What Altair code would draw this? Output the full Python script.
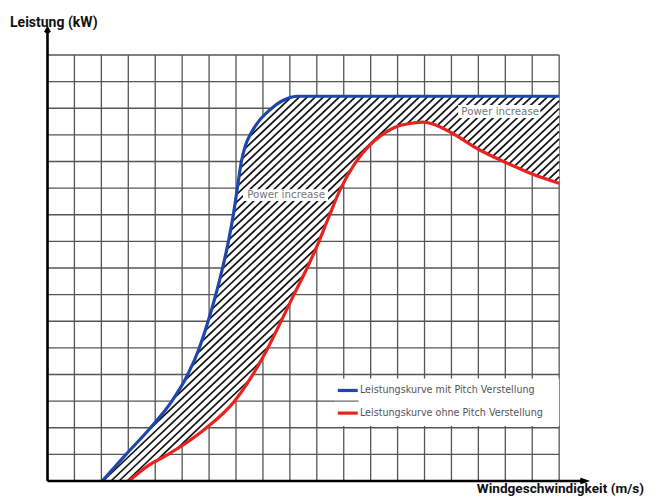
import altair as alt
import pandas as pd
import numpy as np

# ---------------- data (grid units: x = wind-speed cells, y = power cells) -------------
blue_u = [2.03, 2.9, 3.8, 4.6, 5.19, 5.62, 5.95, 6.25, 6.5, 6.72, 6.9, 7.05, 7.2, 7.35, 7.55, 7.8, 8.26, 8.76, 9.3, 19.0]
blue_v = [0.0, 0.98, 1.97, 2.97, 3.96, 4.95, 5.95, 7.0, 8.0, 9.0, 10.0, 11.0, 12.0, 12.6, 13.05, 13.45, 13.94, 14.3, 14.45, 14.45]

red_u = [3.02, 3.7, 4.44, 5.12, 5.87, 6.92, 7.6, 8.16, 8.65, 9.15, 9.64, 10.02, 10.42, 10.88, 11.44,
         11.93, 12.36, 12.86, 13.6, 13.95, 14.33, 15.0, 16.0, 17.0, 18.0, 19.0]
red_v = [0.0, 0.55, 0.98, 1.41, 1.97, 2.97, 3.96, 4.95, 5.95, 7.0, 8.0, 8.85, 9.85, 10.97, 11.97,
         12.58, 12.96, 13.27, 13.45, 13.48, 13.4, 13.08, 12.46, 11.97, 11.53, 11.18]

series_names = ["Leistungskurve mit Pitch Verstellung", "Leistungskurve ohne Pitch Verstellung"]
series_colors = ["#1f47ab", "#e8231f"]

grid_cols = list(range(0, 20))   # vertical grid lines
grid_rows = list(range(0, 17))   # horizontal grid lines
axis_x_end = 20
axis_y_end = 17

label_text = "Power increase"
label_pos_u = [8.86, 16.81]
label_pos_v = [10.74, 13.86]
label_box_u = [(7.26, 10.42), (15.25, 18.3)]
label_box_v = [(10.52, 10.96), (13.63, 14.12)]

x_title = "Windgeschwindigkeit (m/s)"
y_title = "Leistung (kW)"

# ---------------- layout ----------------
W, H = 636, 488
X0, Y0 = 39.5, 473.0          # pixel of grid origin inside the chart
CX, CY = 26.93, 26.625         # pixels per grid cell
xs = alt.Scale(domain=[-X0 / CX, (W - X0) / CX], nice=False, zero=False)
ys = alt.Scale(domain=[-(H - Y0) / CY, Y0 / CY], nice=False, zero=False)


def X(f="u"):
    return alt.X(f"{f}:Q", scale=xs, axis=None)


def Y(f="v"):
    return alt.Y(f"{f}:Q", scale=ys, axis=None)


# monotone-x cubic (same as d3 curveMonotoneX) used for fill and hatch
def monotone(xp, yp, xq):
    xp = np.asarray(xp, float); yp = np.asarray(yp, float)
    h = np.diff(xp); s = np.diff(yp) / h
    n = len(xp)
    t = np.zeros(n)
    for i in range(1, n - 1):
        h0, h1, s0, s1 = h[i - 1], h[i], s[i - 1], s[i]
        p = (s0 * h1 + s1 * h0) / (h0 + h1)
        t[i] = (np.sign(s0) + np.sign(s1)) * min(abs(s0), abs(s1), 0.5 * abs(p))
    t[0] = (3 * s[0] - t[1]) / 2
    t[-1] = (3 * s[-1] - t[-2]) / 2
    xq = np.asarray(xq, float)
    idx = np.clip(np.searchsorted(xp, xq) - 1, 0, n - 2)
    hh = h[idx]
    tau = (xq - xp[idx]) / hh
    h00 = 2 * tau**3 - 3 * tau**2 + 1
    h10 = tau**3 - 2 * tau**2 + tau
    h01 = -2 * tau**3 + 3 * tau**2
    h11 = tau**3 - tau**2
    return h00 * yp[idx] + h10 * hh * t[idx] + h01 * yp[idx + 1] + h11 * hh * t[idx + 1]


def upper(u):
    return np.where(u >= blue_u[0], monotone(blue_u, blue_v, np.clip(u, blue_u[0], blue_u[-1])), -1)


def lower(u):
    return np.where(u >= red_u[0], monotone(red_u, red_v, np.clip(u, red_u[0], red_u[-1])), 0.0)


# white fill between the curves
uu = np.linspace(blue_u[0], blue_u[-1], 1500)
fill_df = pd.DataFrame({"u": uu, "v": upper(uu), "v2": lower(uu)})

# diagonal hatch segments clipped to the region
hatch_rows = []
slope_px = 0.95                 # rise per run, in pixels
step_c = 8.0 / CX
for c in np.arange(-22, 19.5, step_c):
    us = np.arange(max(c, 1.9), 19.0 + 1e-9, 0.002)
    if len(us) < 2:
        continue
    vs = (us - c) * CX / CY * slope_px
    inside = (vs >= 0) & (vs <= upper(us)) & (vs >= lower(us))
    if not inside.any():
        continue
    d = np.diff(inside.astype(int))
    starts = list(np.where(d == 1)[0] + 1)
    ends = list(np.where(d == -1)[0])
    if inside[0]:
        starts = [0] + starts
    if inside[-1]:
        ends = ends + [len(us) - 1]
    for a, b in zip(starts, ends):
        if b > a:
            hatch_rows.append({"u": us[a], "v": vs[a], "u2": us[b], "v2": vs[b]})
hatch_df = pd.DataFrame(hatch_rows)

grid_v_df = pd.DataFrame({"u": grid_cols, "v": 0, "v2": grid_rows[-1]})
grid_h_df = pd.DataFrame({"v": grid_rows, "u": 0, "u2": grid_cols[-1]})

curve_df = pd.concat([
    pd.DataFrame({"u": blue_u, "v": blue_v, "s": series_names[0]}),
    pd.DataFrame({"u": red_u, "v": red_v, "s": series_names[1]}),
])
color = alt.Color("s:N", scale=alt.Scale(domain=series_names, range=series_colors), legend=None)

grid_color = "#555555"
gv = alt.Chart(grid_v_df).mark_rule(color=grid_color, strokeWidth=1.3).encode(
    x=X(), y=Y(), y2="v2:Q")
gh = alt.Chart(grid_h_df).mark_rule(color=grid_color, strokeWidth=1.3).encode(
    y=Y(), x=X(), x2="u2:Q")

fill = alt.Chart(fill_df).mark_area(color="white", opacity=1).encode(x=X(), y=Y(), y2="v2:Q")
hatch = alt.Chart(hatch_df).mark_rule(color="#111111", strokeWidth=1.7).encode(
    x=X(), y=Y(), x2="u2:Q", y2="v2:Q")

lab_df = pd.DataFrame({
    "u": label_pos_u, "v": label_pos_v, "t": [label_text] * 2,
    "bu": [b[0] for b in label_box_u], "bu2": [b[1] for b in label_box_u],
    "bv": [b[0] for b in label_box_v], "bv2": [b[1] for b in label_box_v],
})
lab_bg = alt.Chart(lab_df).mark_rect(color="white").encode(
    x=X("bu"), x2="bu2:Q", y=Y("bv"), y2="bv2:Q")
lab_txt = alt.Chart(lab_df).mark_text(font="DejaVu Sans", fontSize=10.3, color="#777777",
                                      baseline="middle").encode(x=X(), y=Y(), text="t:N")

# legend
leg_box_df = pd.DataFrame({"u": [10.68], "u2": [19.0], "v": [2.07], "v2": [3.85]})
leg_box = alt.Chart(leg_box_df).mark_rect(color="white").encode(x=X(), x2="u2:Q", y=Y(), y2="v2:Q")
leg_grid = alt.Chart(pd.DataFrame({"u": [10.68], "u2": [11.55], "v": [3.0]})).mark_rule(
    color="#666666", strokeWidth=1.2).encode(x=X(), x2="u2:Q", y=Y())
leg_df = pd.DataFrame({"s": series_names, "u": [10.78] * 2, "u2": [11.52] * 2,
                       "tu": [11.6] * 2, "v": [3.4, 2.55]})
leg_sym = alt.Chart(leg_df).mark_rule(strokeWidth=3.2).encode(x=X(), x2="u2:Q", y=Y(), color=color)
leg_txt = alt.Chart(leg_df).mark_text(font="DejaVu Sans", fontSize=9.6, color="#555555",
                                      align="left", baseline="middle").encode(
    x=X("tu"), y=Y(), text="s:N")

curves = alt.Chart(curve_df).mark_line(interpolate="monotone", strokeWidth=3.2).encode(
    x=X(), y=Y(), color=color, detail="s:N", order="u:Q")

# axes with arrows
ax_df = pd.DataFrame({"u": [0, 0], "v": [0, 0], "u2": [axis_x_end, 0], "v2": [0, axis_y_end]})
axes = alt.Chart(ax_df).mark_rule(color="black", strokeWidth=2.6).encode(
    x=X(), y=Y(), x2="u2:Q", y2="v2:Q")
arr_x = alt.Chart(pd.DataFrame({"u": [axis_x_end], "v": [0]})).mark_point(
    shape="M -2.9 -1 L 0 0 L -2.9 1", size=16, filled=False, color="black", strokeWidth=2.6,
    opacity=1, strokeJoin="miter").encode(x=X(), y=Y())
arr_y = alt.Chart(pd.DataFrame({"u": [0], "v": [axis_y_end]})).mark_point(
    shape="M -1 1.8 L 0 0 L 1 1.8", size=21, filled=False, color="black", strokeWidth=2.6,
    opacity=1, strokeJoin="miter").encode(x=X(), y=Y())

title_y = alt.Chart(pd.DataFrame({"t": [y_title]})).mark_text(
    font="Roboto", fontWeight="bold", fontSize=14, color="#111111", align="left",
    baseline="alphabetic").encode(x=alt.value(2), y=alt.value(18.7), text="t:N")
title_x = alt.Chart(pd.DataFrame({"t": [x_title]})).mark_text(
    font="Roboto", fontWeight="bold", fontSize=13.6, color="#111111", align="right",
    baseline="alphabetic").encode(x=alt.value(636), y=alt.value(485.2), text="t:N")

chart = alt.layer(
    gv, gh, fill, hatch, lab_bg, lab_txt, leg_box, leg_grid, leg_sym, leg_txt,
    curves, axes, arr_x, arr_y, title_y, title_x
).properties(
    width=W, height=H, padding=0, autosize=alt.AutoSizeParams(type="none")
).configure_view(stroke=None)

chart.save("out.html", embed_options={"renderer": "svg", "actions": False})
